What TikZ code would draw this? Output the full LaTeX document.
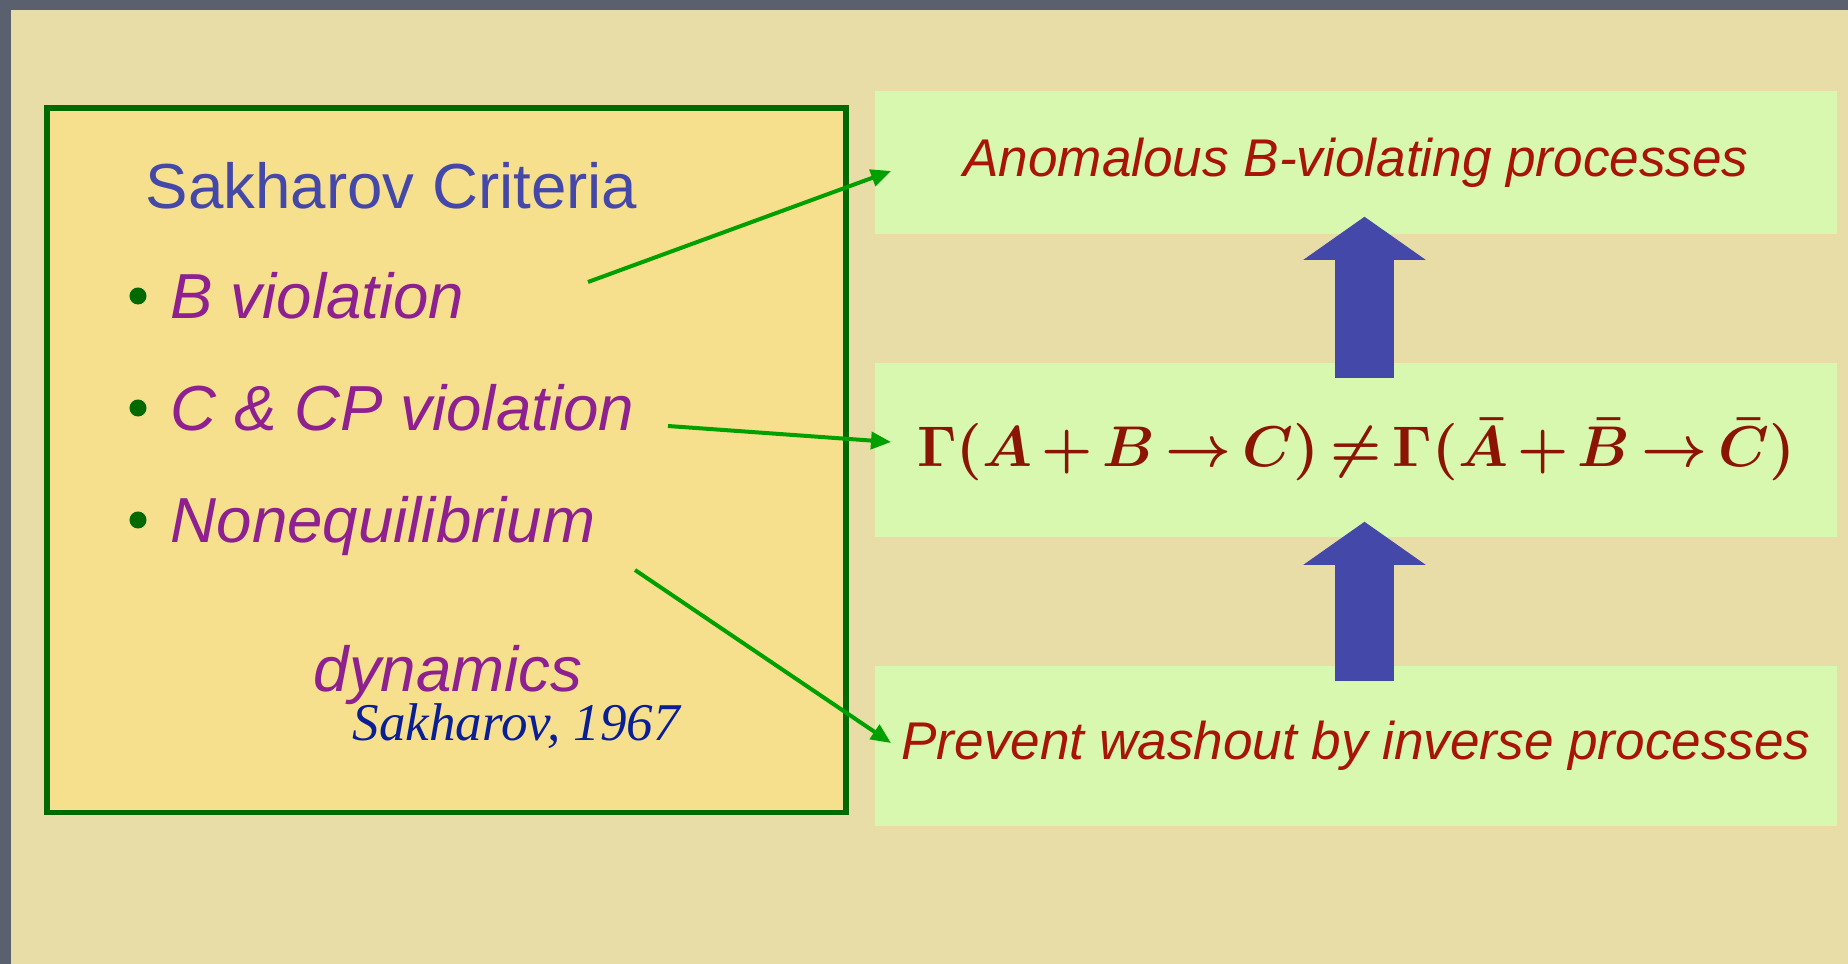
\documentclass[tikz,border=0pt]{standalone}
\usepackage{fontspec}
\setmainfont{Liberation Sans}
\newfontfamily\citefont{Liberation Serif}
\usetikzlibrary{arrows.meta}
\definecolor{slate}{RGB}{90,96,110}
\definecolor{sand}{RGB}{232,221,166}
\definecolor{straw}{RGB}{246,224,142}
\definecolor{boxgreen}{RGB}{0,106,0}
\definecolor{lime}{RGB}{216,248,176}
\definecolor{arrowgreen}{RGB}{0,160,0}
\definecolor{indigo}{RGB}{68,72,168}
\definecolor{plum}{RGB}{142,32,144}
\definecolor{brick}{RGB}{168,20,8}
\definecolor{maroon}{RGB}{140,20,5}
\definecolor{navy}{RGB}{10,30,150}
\begin{document}
\begin{tikzpicture}[x=0.01cm, y=-0.01cm, every node/.style={inner sep=0pt},
    item/.style={anchor=base west, text=plum, font=\fontsize{18.1}{21}\selectfont\itshape},
    result/.style={fill=lime, minimum width=9.62cm, text=brick, font=\fontsize{15.1}{18}\selectfont\itshape},
    link/.style={draw=arrowgreen, line width=0.04cm, -{Triangle[length=0.2cm, width=0.17cm]}},
    push/.style={draw=indigo, line width=0.59cm, -{Triangle[length=0.43cm, width=1.2cm]}}]
    \fill[slate] (0,0) rectangle (1848,964);
    \fill[sand] (11,10) rectangle (1848,964);
    \node[draw=boxgreen, fill=straw, line width=0.055cm, minimum width=7.99cm, minimum height=7.04cm, anchor=north west] (frame) at (44,105.5) {};
    \node[anchor=base west, text=indigo, font=\fontsize{18.1}{21}\selectfont] (title) at (145,209) {Sakharov Criteria};
    \node[circle, fill=boxgreen, minimum size=0.17cm] (dot1) at (138,296) {};
    \node[circle, fill=boxgreen, minimum size=0.17cm] (dot2) at (138,408) {};
    \node[circle, fill=boxgreen, minimum size=0.17cm] (dot3) at (138,520) {};
    \node[item] (bviol) at (170,319) {B violation};
    \node[item] (cpviol) at (170,431) {C \& CP violation};
    \node[item] (noneq) at (170,543) {Nonequilibrium};
    \node[item] (dyn) at (313,692) {dynamics};
    \node[anchor=base west, text=navy, font=\citefont\itshape\fontsize{15.1}{17}\selectfont] (cite) at (352,740) {Sakharov, 1967};
    \node[result, minimum height=1.43cm] (anom) at (1356,162.5) {Anomalous B-violating processes};
    \node[fill=lime, minimum width=9.62cm, minimum height=1.74cm, text=maroon] (rates) at (1356,450) {\resizebox{8.77cm}{!}{\medmuskip=2.5mu\thickmuskip=3mu\boldmath$\Gamma(A+B\to C)\neq\Gamma(\bar A+\bar B\to\bar C)$}};
    \node[result, minimum height=1.6cm] (washout) at (1356,746) {Prevent washout by inverse processes};
    \coordinate (bfrom) at (588,282);
    \coordinate (cpfrom) at (668,426);
    \coordinate (neqfrom) at (635,570);
    \draw[link] (bfrom) -- ([shift={(17,8.5)}]anom.west);
    \draw[link] (cpfrom) -- ([shift={(17,-8)}]rates.west);
    \draw[link] (neqfrom) -- ([shift={(17,-3)}]washout.west);
    \draw[push] ([shift={(8.5,16)}]rates.north) -- ([shift={(8.5,-18)}]anom.south);
    \draw[push] ([shift={(8.5,16)}]washout.north) -- ([shift={(8.5,-16)}]rates.south);
\end{tikzpicture}
\end{document}
